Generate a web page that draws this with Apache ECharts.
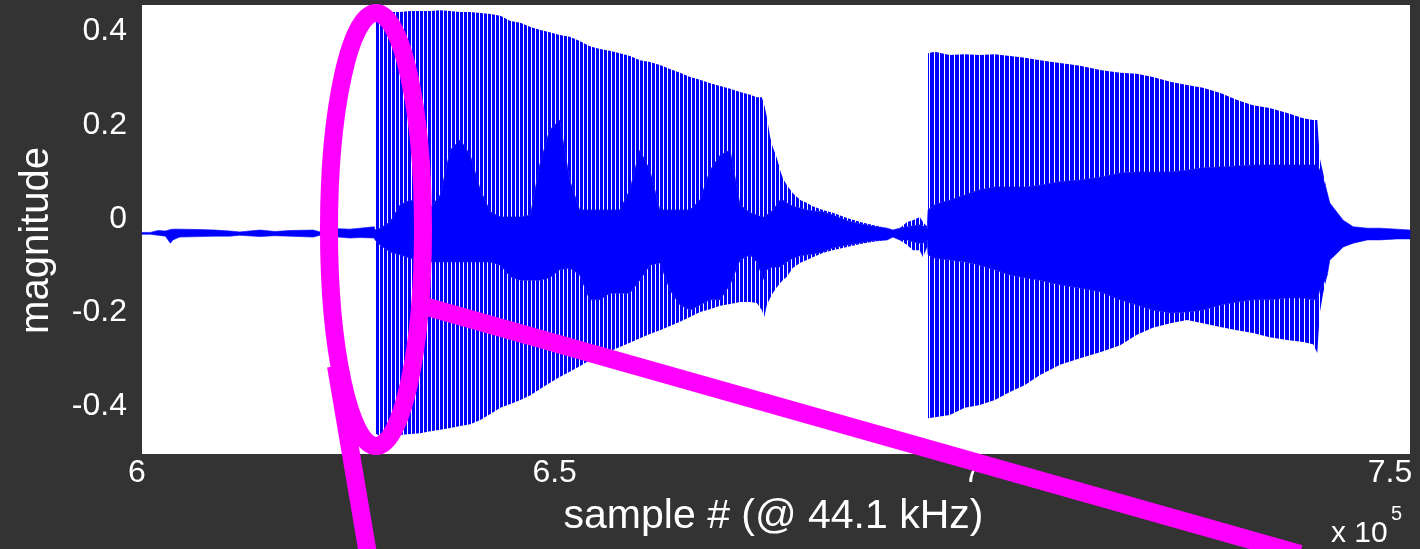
<!DOCTYPE html>
<html>
<head>
<meta charset="utf-8">
<script src="https://cdn.jsdelivr.net/npm/echarts@6.0.0/dist/echarts.min.js"></script>
<style>
  html, body { margin: 0; padding: 0; background: #333333; }
  #chart { width: 1420px; height: 549px; }
</style>
</head>
<body>
<div id="chart"></div>
<script>
// ---- data (sample index, amplitude) ----
const xTickValues = [600000, 650000, 700000, 750000];
const xTickLabels = ['6', '6.5', '7', '7.5'];
const yTickValues = [-0.4, -0.2, 0, 0.2, 0.4];
const yTickLabels = ['-0.4', '-0.2', '0', '0.2', '0.4'];
const noteOnsets = [628500, 694700];

const samplePos = [
  600600, 601600, 602500, 603400, 604000, 604300, 605100, 607500, 609300, 611100, 612300, 614700, 616500, 618300, 621100, 621900, 623100, 624100, 625500, 626700, 628400,
  628500, 629100, 630300, 631500, 632700, 633900, 635100, 636300, 637500, 638700, 639900, 641100, 642300, 643500, 644700, 645900, 647100, 648200, 649400, 650600, 651800, 653000, 654200, 655400, 656600, 657800, 659000, 660200, 661400, 662600, 663800, 665000, 666200, 667400, 668600, 669800, 671000, 672200, 673400, 674200, 674800, 675100, 675400, 675800, 676100, 676600, 677000, 677300, 677800, 678500, 679400, 680200, 680900, 682100, 683300, 685000, 686600, 688100, 689800, 690500, 691300, 692200, 692900, 693700, 694100, 694600,
  694700, 695500, 697300, 699100, 700900, 702700, 704500, 706300, 708100, 710500, 712900, 715300, 717700, 719700, 721600, 723700, 725700, 727600, 729700, 731700, 733600, 735600, 737700, 739600, 740800, 741300, 741600, 742000, 742500, 742800, 743700, 744400, 745600, 747300, 748800, 750800, 752400
];

// outer (peak) envelope, top side
const outerTop = [
  -0.029, -0.029, -0.025, -0.026, -0.023, -0.022, -0.022, -0.023, -0.024, -0.026, -0.028, -0.024, -0.027, -0.025, -0.024, -0.028, -0.028, -0.021, -0.022, -0.020, -0.017,
  0.421, 0.442, 0.442, 0.442, 0.444, 0.444, 0.444, 0.446, 0.444, 0.442, 0.442, 0.440, 0.438, 0.434, 0.423, 0.419, 0.410, 0.404, 0.399, 0.393, 0.389, 0.380, 0.369, 0.363, 0.359, 0.354, 0.348, 0.339, 0.335, 0.329, 0.320, 0.312, 0.303, 0.297, 0.290, 0.284, 0.278, 0.271, 0.265, 0.260, 0.260, 0.243, 0.218, 0.175, 0.154, 0.130, 0.104, 0.087, 0.072, 0.055, 0.040, 0.034, 0.027, 0.019, 0.013, 0.002, -0.007, -0.013, -0.020, -0.024, -0.020, -0.007, -0.003, 0.004, -0.007, -0.017,
  0.354, 0.357, 0.350, 0.352, 0.350, 0.352, 0.348, 0.344, 0.339, 0.333, 0.327, 0.318, 0.312, 0.310, 0.303, 0.293, 0.286, 0.280, 0.269, 0.254, 0.243, 0.237, 0.226, 0.215, 0.211, 0.211, 0.130, 0.098, 0.055, 0.034, 0.013, -0.003, -0.017, -0.020, -0.020, -0.022, -0.024
];

// dense body envelope, top side
const bodyTop = [
  -0.029, -0.029, -0.025, -0.026, -0.023, -0.022, -0.022, -0.023, -0.024, -0.026, -0.028, -0.024, -0.027, -0.025, -0.024, -0.028, -0.028, -0.021, -0.022, -0.020, -0.017,
  -0.024, -0.020, -0.007, 0.030, 0.040, 0.030, 0.023, 0.051, 0.147, 0.169, 0.136, 0.062, 0.015, 0.004, 0.004, 0.004, 0.008, 0.115, 0.190, 0.211, 0.083, 0.019, 0.019, 0.019, 0.019, 0.019, 0.062, 0.147, 0.104, 0.019, 0.019, 0.019, 0.019, 0.040, 0.104, 0.136, 0.147, 0.030, 0.013, 0.008, 0.004, 0.004, 0.008, 0.013, 0.019, 0.030, 0.040, 0.040, 0.034, 0.027, 0.023, 0.019, 0.017, 0.015, 0.008, -0.004, -0.011, -0.016, -0.020, -0.024, -0.020, -0.017, -0.015, -0.013, -0.015, -0.022,
  0.019, 0.030, 0.040, 0.051, 0.062, 0.068, 0.068, 0.068, 0.072, 0.079, 0.083, 0.089, 0.098, 0.100, 0.100, 0.100, 0.104, 0.109, 0.111, 0.113, 0.115, 0.115, 0.115, 0.115, 0.115, 0.115, 0.104, 0.087, 0.055, 0.034, 0.013, -0.003, -0.017, -0.020, -0.020, -0.022, -0.024
];

// dense body envelope, bottom side
const bodyBot = [
  -0.033, -0.033, -0.035, -0.037, -0.052, -0.045, -0.039, -0.038, -0.037, -0.037, -0.035, -0.038, -0.036, -0.037, -0.039, -0.035, -0.035, -0.039, -0.041, -0.040, -0.041,
  -0.045, -0.056, -0.071, -0.077, -0.084, -0.088, -0.092, -0.092, -0.092, -0.092, -0.092, -0.092, -0.092, -0.099, -0.124, -0.131, -0.131, -0.131, -0.126, -0.109, -0.105, -0.120, -0.173, -0.173, -0.159, -0.159, -0.159, -0.131, -0.099, -0.094, -0.152, -0.184, -0.195, -0.184, -0.173, -0.173, -0.141, -0.088, -0.077, -0.092, -0.120, -0.131, -0.109, -0.105, -0.103, -0.103, -0.103, -0.099, -0.092, -0.084, -0.079, -0.077, -0.075, -0.071, -0.062, -0.056, -0.051, -0.047, -0.045, -0.039, -0.045, -0.045, -0.049, -0.052, -0.052, -0.045,
  -0.077, -0.084, -0.088, -0.092, -0.099, -0.109, -0.120, -0.126, -0.131, -0.141, -0.148, -0.156, -0.173, -0.184, -0.195, -0.201, -0.199, -0.195, -0.184, -0.178, -0.173, -0.173, -0.169, -0.169, -0.173, -0.173, -0.152, -0.141, -0.120, -0.088, -0.073, -0.060, -0.052, -0.045, -0.045, -0.043, -0.043
];

// outer (peak) envelope, bottom side
const outerBot = [
  -0.033, -0.033, -0.035, -0.037, -0.052, -0.045, -0.039, -0.038, -0.037, -0.037, -0.035, -0.038, -0.036, -0.037, -0.039, -0.035, -0.035, -0.039, -0.041, -0.040, -0.041,
  -0.458, -0.464, -0.466, -0.462, -0.460, -0.458, -0.454, -0.451, -0.447, -0.443, -0.439, -0.430, -0.417, -0.404, -0.396, -0.387, -0.377, -0.364, -0.351, -0.338, -0.327, -0.315, -0.302, -0.291, -0.283, -0.274, -0.265, -0.255, -0.246, -0.238, -0.229, -0.220, -0.210, -0.199, -0.193, -0.186, -0.182, -0.178, -0.178, -0.180, -0.195, -0.210, -0.184, -0.169, -0.159, -0.146, -0.137, -0.131, -0.124, -0.105, -0.094, -0.088, -0.082, -0.073, -0.067, -0.060, -0.054, -0.049, -0.045, -0.039, -0.045, -0.056, -0.067, -0.067, -0.082, -0.060,
  -0.426, -0.424, -0.419, -0.404, -0.398, -0.387, -0.370, -0.355, -0.334, -0.312, -0.298, -0.285, -0.270, -0.248, -0.233, -0.223, -0.216, -0.223, -0.231, -0.238, -0.244, -0.253, -0.259, -0.263, -0.268, -0.287, -0.201, -0.159, -0.120, -0.088, -0.073, -0.060, -0.052, -0.045, -0.045, -0.043, -0.043
];

// ---- styles ----
const FONT = "'Liberation Sans Narrow', 'Liberation Sans', Arial, sans-serif";
const BLUE = '#0000ff';
const MAGENTA = '#ff00ff';

function stripePattern(period) {
  const c = document.createElement('canvas');
  c.width = period; c.height = 4;
  const ctx = c.getContext('2d');
  ctx.fillStyle = '#ffffff';
  ctx.fillRect(0, 0, period, 4);
  ctx.fillStyle = BLUE;
  ctx.fillRect(0, 0, period - 1, 4);
  return c;
}
const patterns = [stripePattern(4), stripePattern(5)];

function renderItem(params, api) {
  if (params.dataIndex !== 0) return null;
  const n = samplePos.length;
  const P = (i, arr) => api.coord([samplePos[i], arr[i]]);
  const children = [];
  // striped peak regions per note
  noteOnsets.forEach(function (onset, k) {
    const next = k + 1 < noteOnsets.length ? noteOnsets[k + 1] : Infinity;
    const idx = [];
    for (let i = 0; i < n; i++) if (samplePos[i] >= onset && samplePos[i] < next) idx.push(i);
    const up = [], dn = [];
    idx.forEach(i => up.push(P(i, outerTop)));
    idx.slice().reverse().forEach(i => up.push(P(i, bodyTop)));
    idx.forEach(i => dn.push(P(i, bodyBot)));
    idx.slice().reverse().forEach(i => dn.push(P(i, outerBot)));
    const fill = { image: patterns[k], repeat: 'repeat' };
    children.push({ type: 'polygon', shape: { points: up }, style: { fill: fill } });
    children.push({ type: 'polygon', shape: { points: dn }, style: { fill: fill } });
  });
  // dense body
  const body = [];
  for (let i = 0; i < n; i++) body.push(P(i, bodyTop));
  for (let i = n - 1; i >= 0; i--) body.push(P(i, bodyBot));
  children.push({ type: 'polygon', shape: { points: body }, style: { fill: BLUE, stroke: BLUE, lineWidth: 0.6 } });
  return { type: 'group', children: children };
}

const chart = echarts.init(document.getElementById('chart'), null, { renderer: 'canvas' });
const labelStyle = { color: '#ffffff', fontFamily: FONT, fontSize: 32 };

chart.setOption({
  backgroundColor: '#333333',
  animation: false,
  grid: { left: 137, top: 5, width: 1273, height: 449, show: false },
  xAxis: {
    type: 'value', min: 600000, max: 752400,
    axisLine: { show: false }, axisTick: { show: false }, splitLine: { show: false },
    axisLabel: Object.assign({
      margin: 3,
      customValues: xTickValues,
      formatter: function (v) {
        const i = xTickValues.findIndex(t => Math.abs(t - v) < 1e-6);
        return i >= 0 ? xTickLabels[i] : '';
      }
    }, labelStyle),
    name: 'sample # (@ 44.1 kHz)', nameLocation: 'middle', nameGap: 42,
    nameTextStyle: { color: '#ffffff', fontFamily: FONT, fontSize: 41 }
  },
  yAxis: {
    type: 'value', min: -0.5026, max: 0.457,
    axisLine: { show: false }, axisTick: { show: false }, splitLine: { show: false },
    axisLabel: Object.assign({
      margin: 10,
      customValues: yTickValues,
      formatter: function (v) {
        const i = yTickValues.findIndex(t => Math.abs(t - v) < 1e-9);
        return i >= 0 ? yTickLabels[i] : '';
      }
    }, labelStyle),
    name: 'magnitude', nameLocation: 'middle', nameGap: 80,
    nameTextStyle: { color: '#ffffff', fontFamily: FONT, fontSize: 40, padding: [0, 22, 0, 0] }
  },
  graphic: [
    { type: 'rect', z: 0, silent: true, shape: { x: 142, y: 5, width: 1268, height: 449 }, style: { fill: '#ffffff' } },
    { type: 'text', z: 100, x: 1331, y: 534, style: { text: 'x 10', fill: '#ffffff', fontFamily: FONT, fontSize: 30, textVerticalAlign: 'middle' } },
    { type: 'text', z: 100, x: 1391, y: 514, style: { text: '5', fill: '#ffffff', fontFamily: FONT, fontSize: 20, textVerticalAlign: 'middle' } },
    { type: 'line', z: 100, silent: true, shape: { x1: 336, y1: 366, x2: 369, y2: 560 }, style: { stroke: MAGENTA, lineWidth: 18 } },
    { type: 'line', z: 100, silent: true, shape: { x1: 424, y1: 306, x2: 1300, y2: 554 }, style: { stroke: MAGENTA, lineWidth: 18 } },
    { type: 'ellipse', z: 101, silent: true, shape: { cx: 376, cy: 229.5, rx: 47, ry: 216.5 }, style: { fill: 'none', stroke: MAGENTA, lineWidth: 18 } }
  ],
  series: [{
    type: 'custom',
    z: 5,
    silent: true,
    renderItem: renderItem,
    encode: { x: 0, y: [1, 2] },
    data: samplePos.map((s, i) => [s, outerTop[i], outerBot[i]])
  }]
});
</script>
</body>
</html>
